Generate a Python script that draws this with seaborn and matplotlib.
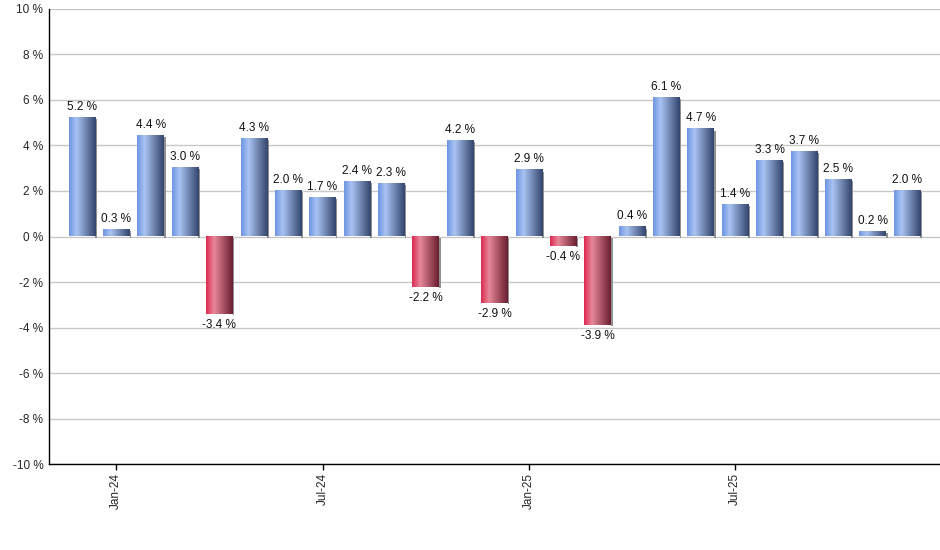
import numpy as np
import pandas as pd
import seaborn as sns
import matplotlib
matplotlib.use("Agg")
import matplotlib.pyplot as plt
from matplotlib.colors import LinearSegmentedColormap

# Monthly returns, Dec-23 .. Dec-25
months = ["Dec-23", "Jan-24", "Feb-24", "Mar-24", "Apr-24", "May-24", "Jun-24",
          "Jul-24", "Aug-24", "Sep-24", "Oct-24", "Nov-24", "Dec-24",
          "Jan-25", "Feb-25", "Mar-25", "Apr-25", "May-25", "Jun-25",
          "Jul-25", "Aug-25", "Sep-25", "Oct-25", "Nov-25", "Dec-25"]
returns = [5.2, 0.3, 4.4, 3.0, -3.4, 4.3, 2.0, 1.7, 2.4, 2.3, -2.2, 4.2, -2.9,
           2.9, -0.4, -3.9, 0.4, 6.1, 4.7, 1.4, 3.3, 3.7, 2.5, 0.2, 2.0]
tick_labels = ["Jan-24", "Jul-24", "Jan-25", "Jul-25"]
y_ticks = [-10, -8, -6, -4, -2, 0, 2, 4, 6, 8, 10]


def main():
    df = pd.DataFrame({"month": months, "ret": returns})

    sns.set_style("white")
    plt.rcParams["font.family"] = ["Liberation Sans", "DejaVu Sans"]

    fig = plt.figure(figsize=(9.4, 5.5), dpi=100)
    ax = fig.add_axes([0.052, 0.156, 0.948, 0.828])

    sns.barplot(df, x="month", y="ret", order=months, width=0.77,
                color="white", ax=ax, zorder=2)

    # gradient fill for each bar
    blue = LinearSegmentedColormap.from_list(
        "b", [(0, "#6f96e2"), (0.28, "#a9c3f3"), (1, "#33456b")])
    red = LinearSegmentedColormap.from_list(
        "r", [(0, "#dc2a52"), (0.3, "#e7889a"), (1, "#6a1e30")])
    grad = np.linspace(0, 1, 64).reshape(1, -1)
    for patch, v in zip(ax.patches, df["ret"]):
        x0, y0 = patch.get_x(), patch.get_y()
        w, h = patch.get_width(), patch.get_height()
        patch.set_facecolor("none")
        patch.set_edgecolor("none")
        lo, hi = min(y0, y0 + h), max(y0, y0 + h)
        # small shadow on the right side
        ax.fill_between([x0 + w, x0 + w + 0.05], lo - 0.05, hi - 0.05,
                        color="#909090", lw=0, zorder=2)
        ax.imshow(grad, cmap=blue if v >= 0 else red, aspect="auto",
                  extent=[x0, x0 + w, lo, hi],
                  zorder=3, interpolation="bilinear")
        if v >= 0:
            ax.text(x0 + w / 2, v + 0.22, f"{v:.1f} %", ha="center", va="bottom",
                    fontsize=8.5, color="#111111", zorder=4)
        else:
            ax.text(x0 + w / 2, v - 0.22, f"{v:.1f} %", ha="center", va="top",
                    fontsize=8.5, color="#111111", zorder=4)

    ax.set_xlim(-0.96, len(months) - 0.04)
    ax.set_ylim(-10, 10)
    ax.set_yticks(y_ticks)
    ax.set_yticklabels([f"{t} %" for t in y_ticks], fontsize=8.5)
    ax.set_xticks([months.index(m) for m in tick_labels])
    ax.set_xticklabels(tick_labels, rotation=90, fontsize=8.5)
    ax.tick_params(axis="x", length=4.5, width=1, color="black", pad=1.5,
                   bottom=True)
    ax.tick_params(axis="y", length=0, pad=4)
    ax.set_xlabel("")
    ax.set_ylabel("")

    ax.grid(axis="y", color="#c8c8c8", linewidth=1, zorder=0)
    ax.set_axisbelow(True)
    for s in ["top", "right"]:
        ax.spines[s].set_visible(False)
    for s in ["left", "bottom"]:
        ax.spines[s].set_color("black")
        ax.spines[s].set_linewidth(1.0)

    fig.savefig("out.png", dpi=100)


if __name__ == "__main__":
    main()
